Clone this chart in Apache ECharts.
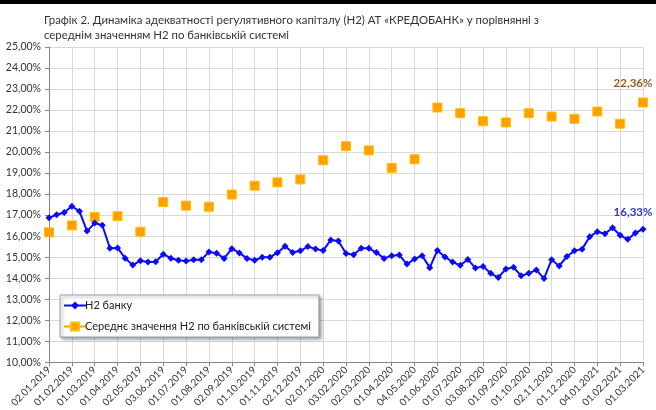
<!DOCTYPE html>
<html>
<head>
<meta charset="utf-8">
<script src="https://cdn.jsdelivr.net/npm/echarts@6/dist/echarts.min.js"></script>
<style>
  html, body { margin: 0; padding: 0; background: #fff; }
</style>
</head>
<body>
<div id="myChart" style="width: 656px; height: 410px"></div>
<script>
// monthly dates on the x axis
const dateLabels = [
  '02.01.2019', '01.02.2019', '01.03.2019', '01.04.2019', '02.05.2019', '03.06.2019',
  '01.07.2019', '01.08.2019', '02.09.2019', '01.10.2019', '01.11.2019', '02.12.2019',
  '02.01.2020', '03.02.2020', '02.03.2020', '01.04.2020', '04.05.2020', '01.06.2020',
  '01.07.2020', '03.08.2020', '01.09.2020', '01.10.2020', '02.11.2020', '01.12.2020',
  '04.01.2021', '01.02.2021', '01.03.2021',
];

// bank H2, three readings per month
const bankH2 = [
  16.87, 17.02, 17.12, 17.42, 17.18, 16.24, 16.62, 16.52, 15.42, 15.44,
  14.95, 14.62, 14.83, 14.77, 14.78, 15.14, 14.95, 14.85, 14.81, 14.88,
  14.88, 15.24, 15.19, 14.94, 15.40, 15.20, 14.94, 14.85, 14.99, 14.99,
  15.21, 15.52, 15.22, 15.30, 15.50, 15.39, 15.31, 15.82, 15.77, 15.17,
  15.11, 15.42, 15.42, 15.22, 14.94, 15.07, 15.10, 14.67, 14.91, 15.07,
  14.50, 15.32, 15.01, 14.77, 14.61, 14.89, 14.48, 14.56, 14.23, 14.03,
  14.44, 14.52, 14.11, 14.23, 14.39, 13.98, 14.88, 14.58, 15.03, 15.30,
  15.38, 15.97, 16.21, 16.11, 16.40, 16.04, 15.85, 16.15, 16.33,
];

// banking system average H2, one per month
const systemH2 = [
  16.18, 16.51, 16.91, 16.95, 16.21, 17.62, 17.45, 17.40, 17.98, 18.40,
  18.56, 18.70, 19.61, 20.28, 20.08, 19.25, 19.66, 22.12, 21.85, 21.47,
  21.41, 21.85, 21.69, 21.58, 21.93, 21.35, 22.36,
];

const seriesNames = ['Н2 банку', 'Середнє значення Н2 по банківській системі'];
const titleText = 'Графік 2. Динаміка адекватності регулятивного капіталу (Н2) АТ «КРЕДОБАНК» у порівнянні з\nсереднім значенням Н2 по банківській системі';

const fmtPct = (v) => v.toFixed(2).replace('.', ',') + '%';
const font = 'Lato, "Liberation Sans", sans-serif';

const bankData = bankH2.map((v, i) => [i / 3, v]);
const systemData = systemH2.map((v, i) => [i, v]);

const mychart = echarts.init(document.getElementById('myChart'));
const options = {
  animation: false,
  textStyle: { fontFamily: font },
  title: {
    text: titleText,
    left: 39,
    top: 8,
    textStyle: {
      fontFamily: font,
      fontSize: 11.4,
      fontWeight: 'normal',
      color: '#333',
      lineHeight: 15,
    },
  },
  graphic: [
    {
      type: 'rect',
      left: 0,
      top: 0,
      shape: { width: 656, height: 4 },
      style: { fill: '#000' },
    },
  ],
  legend: {
    orient: 'vertical',
    left: 60,
    top: 295,
    padding: [5, 8, 5, 3],
    itemGap: 10,
    itemWidth: 22,
    itemHeight: 10,
    backgroundColor: '#fff',
    borderColor: '#8ea3b8',
    borderWidth: 1,
    shadowColor: 'rgba(0,0,0,0.35)',
    shadowBlur: 3,
    shadowOffsetX: 2,
    shadowOffsetY: 2,
    textStyle: { fontFamily: font, fontSize: 11, color: '#222', padding: [0, 0, 0, -6] },
    data: [
      { name: seriesNames[0] },
      { name: seriesNames[1], lineStyle: { width: 2, color: '#ffa000', opacity: 1 } },
    ],
  },
  grid: {
    left: 49,
    right: 13,
    top: 47,
    bottom: 44,
  },
  xAxis: {
    type: 'value',
    min: 0,
    max: dateLabels.length - 1,
    interval: 1,
    axisLine: { show: true, lineStyle: { color: '#868686' } },
    axisTick: { show: true, length: 4, lineStyle: { color: '#868686' } },
    splitLine: { show: true, lineStyle: { color: '#d9d9d9' } },
    axisLabel: {
      rotate: 45,
      fontSize: 10,
      color: '#333',
      margin: 6,
      formatter: (v) => dateLabels[v] || '',
    },
  },
  yAxis: {
    type: 'value',
    min: 10,
    max: 25,
    interval: 1,
    axisLine: { show: true, lineStyle: { color: '#868686' } },
    axisTick: { show: true, length: 4, lineStyle: { color: '#868686' } },
    splitLine: { show: true, lineStyle: { color: '#d9d9d9' } },
    axisLabel: {
      fontSize: 10.5,
      color: '#333',
      margin: 8,
      formatter: fmtPct,
    },
  },
  series: [
    {
      name: seriesNames[0],
      type: 'line',
      color: '#0a0aff',
      data: bankData,
      symbol: 'diamond',
      symbolSize: 7,
      lineStyle: { width: 2, color: '#0a0aff' },
      itemStyle: { color: '#0a0aff' },
      label: {
        show: true,
        position: 'top',
        offset: [-10, -2],
        color: '#3333cc',
        fontWeight: 'bold',
        fontSize: 11.5,
        formatter: (p) => (p.dataIndex === bankH2.length - 1 ? fmtPct(p.value[1]) : ''),
      },
      z: 3,
    },
    {
      name: seriesNames[1],
      type: 'line',
      color: '#ffa000',
      data: systemData,
      symbol: 'rect',
      symbolSize: 9,
      lineStyle: { width: 0, opacity: 0 },
      itemStyle: { color: '#ffa000', borderColor: '#ffc000', borderWidth: 1 },
      label: {
        show: true,
        position: 'top',
        offset: [-10, -3],
        color: '#9a5b22',
        fontWeight: 'bold',
        fontSize: 11.5,
        formatter: (p) => (p.dataIndex === systemH2.length - 1 ? fmtPct(p.value[1]) : ''),
      },
      z: 2,
    },
  ],
};
mychart.setOption(options);
</script>
</body>
</html>
